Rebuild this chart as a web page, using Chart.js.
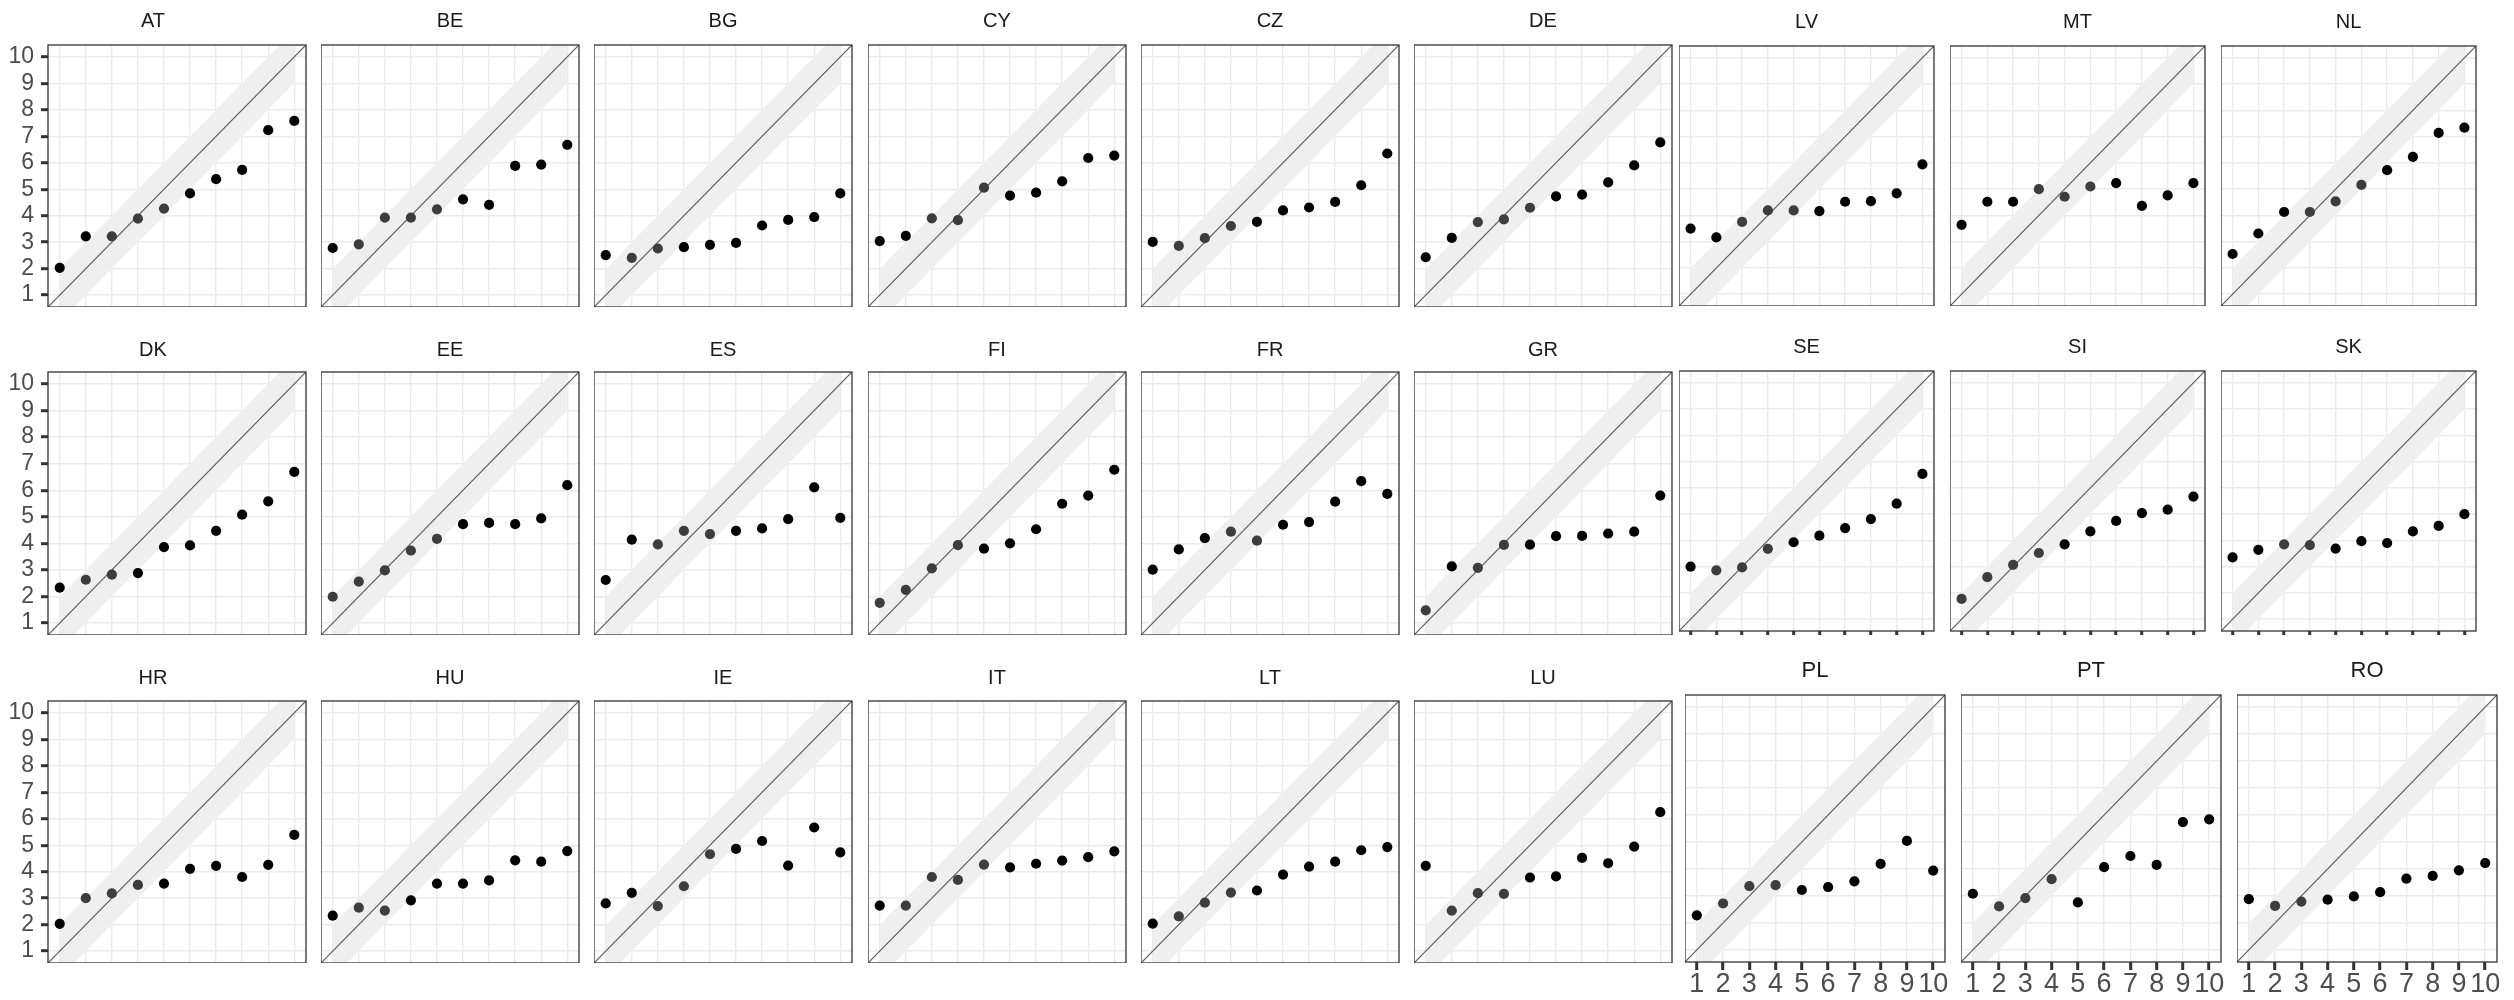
<!DOCTYPE html>
<html>
<head>
<meta charset="utf-8">
<script src="https://cdn.jsdelivr.net/npm/chart.js@4.4.1/dist/chart.umd.min.js"></script>
<style>
  html, body { margin: 0; padding: 0; background: #ffffff; }
  #page { position: relative; width: 2514px; height: 1000px; overflow: hidden; background: #ffffff; }
  #page canvas { position: absolute; }
</style>
</head>
<body>
<div id="page"></div>
<script>
// Deciles on the x axis, shared tick labels for both axes
const deciles = [1, 2, 3, 4, 5, 6, 7, 8, 9, 10];
const tickValues = [1, 2, 3, 4, 5, 6, 7, 8, 9, 10];
const axisMin = 0.55;
const axisMax = 10.45;
const bandHalfWidth = 1;

// Mean value per decile, one array per country
const AT = [2.03, 3.22, 3.22, 3.89, 4.27, 4.84, 5.38, 5.73, 7.23, 7.58];
const BE = [2.78, 2.92, 3.93, 3.93, 4.24, 4.62, 4.41, 5.88, 5.93, 6.68];
const BG = [2.51, 2.41, 2.76, 2.81, 2.90, 2.97, 3.63, 3.84, 3.95, 4.84];
const CY = [3.04, 3.24, 3.90, 3.83, 5.06, 4.76, 4.87, 5.30, 6.18, 6.27];
const CZ = [3.01, 2.86, 3.15, 3.61, 3.77, 4.20, 4.31, 4.52, 5.15, 6.35];
const DE = [2.43, 3.16, 3.76, 3.86, 4.30, 4.73, 4.80, 5.26, 5.90, 6.77];
const LV = [3.50, 3.16, 3.75, 4.19, 4.19, 4.16, 4.52, 4.54, 4.84, 5.94];
const MT = [3.64, 4.52, 4.52, 5.00, 4.71, 5.10, 5.23, 4.36, 4.76, 5.23];
const NL = [2.53, 3.31, 4.13, 4.13, 4.53, 5.16, 5.72, 6.23, 7.14, 7.34];
const DK = [2.33, 2.63, 2.82, 2.88, 3.86, 3.92, 4.47, 5.08, 5.58, 6.69];
const EE = [1.99, 2.56, 2.98, 3.73, 4.17, 4.72, 4.77, 4.72, 4.94, 6.19];
const ES = [2.62, 4.14, 3.96, 4.47, 4.35, 4.47, 4.56, 4.91, 6.11, 4.96];
const FI = [1.76, 2.25, 3.06, 3.93, 3.80, 4.00, 4.53, 5.49, 5.80, 6.77];
const FR = [3.01, 3.77, 4.20, 4.44, 4.10, 4.70, 4.80, 5.57, 6.34, 5.86];
const GR = [1.48, 3.13, 3.08, 3.94, 3.95, 4.27, 4.28, 4.37, 4.44, 5.80];
const SE = [3.00, 2.86, 2.97, 3.68, 3.93, 4.18, 4.47, 4.81, 5.40, 6.53];
const SI = [1.77, 2.60, 3.07, 3.52, 3.85, 4.34, 4.74, 5.04, 5.17, 5.67];
const SK = [3.35, 3.64, 3.85, 3.82, 3.69, 3.97, 3.90, 4.34, 4.55, 5.00];
const HR = [2.03, 3.00, 3.18, 3.50, 3.55, 4.11, 4.22, 3.80, 4.26, 5.39];
const HU = [2.34, 2.64, 2.53, 2.92, 3.55, 3.55, 3.67, 4.43, 4.38, 4.78];
const IE = [2.80, 3.20, 2.70, 3.45, 4.66, 4.86, 5.16, 4.23, 5.67, 4.73];
const IT = [2.72, 2.72, 3.80, 3.69, 4.27, 4.16, 4.30, 4.42, 4.55, 4.77];
const LT = [2.04, 2.31, 2.83, 3.21, 3.29, 3.89, 4.19, 4.38, 4.81, 4.93];
const LU = [4.22, 2.53, 3.19, 3.16, 3.78, 3.82, 4.52, 4.32, 4.95, 6.25];
const PL = [2.28, 2.72, 3.36, 3.40, 3.22, 3.33, 3.54, 4.19, 5.04, 3.94];
const PT = [3.08, 2.61, 2.92, 3.62, 2.76, 4.07, 4.48, 4.15, 5.74, 5.84];
const RO = [2.88, 2.63, 2.79, 2.86, 2.98, 3.14, 3.64, 3.74, 3.95, 4.22];

// Facet order, row by row
const facetRows = [
  ['AT', 'BE', 'BG', 'CY', 'CZ', 'DE', 'LV', 'MT', 'NL'],
  ['DK', 'EE', 'ES', 'FI', 'FR', 'GR', 'SE', 'SI', 'SK'],
  ['HR', 'HU', 'IE', 'IT', 'LT', 'LU', 'PL', 'PT', 'RO']
];

const seriesByCountry = {
  AT, BE, BG, CY, CZ, DE, LV, MT, NL,
  DK, EE, ES, FI, FR, GR, SE, SI, SK,
  HR, HU, IE, IT, LT, LU, PL, PT, RO
};

// ---- page geometry of the facets ----
function panelRect(row, col) {
  if (col < 6) {
    const tops = [45, 372, 701];
    const bottoms = [307, 635, 963];
    const titleY = [21, 350, 678];
    return {
      L: Math.round(48 + col * 273.2), T: tops[row], W: 258, H: bottoms[row] - tops[row],
      titleY: titleY[row], yLabels: col === 0, xMode: 'none', titleSize: 20
    };
  }
  const j = col - 6;
  if (row < 2) {
    const tops = [46, 371];
    const bottoms = [306, 631];
    const titleY = [22, 347];
    return {
      L: Math.round(1678.5 + j * 271), T: tops[row], W: 255, H: bottoms[row] - tops[row],
      titleY: titleY[row], yLabels: false, xMode: row === 1 ? 'small' : 'none', titleSize: 20
    };
  }
  return {
    L: Math.round(1684.5 + j * 276.2), T: 695, W: 260, H: 267,
    titleY: 671, yLabels: false, xMode: 'labels', titleSize: 22
  };
}

const tickFontFamily = "'Liberation Sans', Arial, sans-serif";
const narrowFontFamily = "'Liberation Sans Narrow', 'Liberation Sans', Arial, sans-serif";

// panel border drawn over the data, like a framed facet
const panelFrame = {
  id: 'panelFrame',
  afterDatasetsDraw(chart) {
    const { ctx, chartArea: a } = chart;
    ctx.save();
    ctx.strokeStyle = '#333333';
    ctx.lineWidth = 1.3;
    ctx.strokeRect(a.left, a.top, a.right - a.left, a.bottom - a.top);
    ctx.restore();
  }
};

function setTicks(scale) {
  scale.ticks = tickValues.map(v => ({ value: v }));
}

function makePanel(code, rect) {
  const vals = seriesByCountry[code];
  const page = document.getElementById('page');

  const leftExtra = rect.yLabels ? rect.L : 0;
  const rightExtra = 10;
  const topExtra = rect.T - (rect.titleY - 16);
  const bottomExtra = rect.xMode === 'labels' ? 36 : (rect.xMode === 'small' ? 5 : 0);

  const canvas = document.createElement('canvas');
  const cw = leftExtra + rect.W + rightExtra;
  const ch = topExtra + rect.H + bottomExtra;
  canvas.width = cw;
  canvas.height = ch;
  canvas.style.width = cw + 'px';
  canvas.style.height = ch + 'px';
  canvas.style.left = (rect.L - leftExtra) + 'px';
  canvas.style.top = (rect.T - topExtra) + 'px';
  page.appendChild(canvas);

  const ts = rect.titleSize;
  const padTop = 16 - 0.6 * ts;
  const padBottom = topExtra - padTop - 1.2 * ts;

  const points = deciles.map((d, i) => ({ x: d, y: vals[i] }));
  const pointColors = vals.map((v, i) =>
    Math.abs(v - deciles[i]) <= bandHalfWidth ? '#3d3d3d' : '#000000');
  const bandLower = [deciles[0], deciles[deciles.length - 1]].map(d => ({ x: d, y: d - bandHalfWidth }));
  const bandUpper = [deciles[0], deciles[deciles.length - 1]].map(d => ({ x: d, y: d + bandHalfWidth }));
  const diagonal = [{ x: axisMin, y: axisMin }, { x: axisMax, y: axisMax }];

  const xTicksShown = rect.xMode !== 'none';
  const xTickLen = rect.xMode === 'labels' ? 8 : 4;

  new Chart(canvas, {
    type: 'scatter',
    data: {
      datasets: [
        {
          type: 'scatter', data: points, order: 0,
          pointRadius: 5.1, pointHoverRadius: 5.1,
          pointBackgroundColor: pointColors, pointBorderWidth: 0,
          pointBorderColor: 'rgba(0,0,0,0)'
        },
        {
          type: 'line', data: diagonal, order: 1,
          borderColor: '#5a5a5a', borderWidth: 1.2, pointRadius: 0, fill: false
        },
        {
          type: 'line', data: bandLower, order: 2,
          borderColor: 'rgba(0,0,0,0)', borderWidth: 0, pointRadius: 0, fill: false
        },
        {
          type: 'line', data: bandUpper, order: 2,
          borderColor: 'rgba(0,0,0,0)', borderWidth: 0, pointRadius: 0,
          fill: '-1', backgroundColor: '#efefef'
        }
      ]
    },
    options: {
      responsive: false,
      animation: false,
      devicePixelRatio: 1,
      events: [],
      layout: { autoPadding: false, padding: { left: 0, right: rightExtra, top: 0, bottom: 0 } },
      plugins: {
        legend: { display: false },
        tooltip: { enabled: false },
        title: {
          display: true, text: code, color: '#1a1a1a',
          font: { family: tickFontFamily, size: ts, weight: 'normal', lineHeight: 1.2 },
          padding: { top: padTop, bottom: padBottom }
        }
      },
      scales: {
        x: {
          type: 'linear', min: axisMin, max: axisMax,
          afterBuildTicks: setTicks,
          afterFit(scale) {
            scale.height = bottomExtra;
            scale.paddingLeft = 0; scale.paddingRight = 0;
            scale.paddingTop = 0; scale.paddingBottom = 0;
          },
          border: { display: false },
          grid: {
            color: '#ebebeb', lineWidth: 1.4,
            drawTicks: xTicksShown, tickLength: xTickLen, tickWidth: 3, tickColor: '#333333'
          },
          ticks: {
            display: rect.xMode === 'labels', autoSkip: false, maxRotation: 0, minRotation: 0,
            padding: 1, color: '#4d4d4d',
            font: { family: narrowFontFamily, size: 27, lineHeight: 1.0 },
            callback: v => String(v)
          }
        },
        y: {
          type: 'linear', min: axisMin, max: axisMax,
          afterBuildTicks: setTicks,
          afterFit(scale) {
            scale.width = leftExtra;
            scale.paddingLeft = 0; scale.paddingRight = 0;
            scale.paddingTop = 0; scale.paddingBottom = 0;
          },
          border: { display: false },
          grid: {
            color: '#ebebeb', lineWidth: 1.4,
            drawTicks: rect.yLabels, tickLength: 7, tickWidth: 3, tickColor: '#333333'
          },
          ticks: {
            display: rect.yLabels, padding: 7, color: '#4d4d4d',
            font: { family: tickFontFamily, size: 23, lineHeight: 1.0 },
            callback: v => String(v)
          }
        }
      }
    },
    plugins: [panelFrame]
  });
}

facetRows.forEach((codes, row) => {
  codes.forEach((code, col) => makePanel(code, panelRect(row, col)));
});
</script>
</body>
</html>
